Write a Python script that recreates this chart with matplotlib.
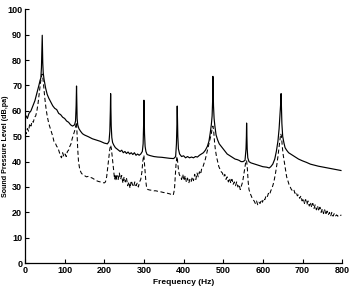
"""Sound pressure level spectrum, solid vs dashed measurement."""
import matplotlib
matplotlib.use("Agg")
import matplotlib.pyplot as plt

# solid curve: frequency (Hz) / level (dB,pa)
solid_freq = [
    0, 3, 6, 10, 15, 20, 25, 30, 35, 38, 40, 41.5, 42.5, 43.5, 44, 44.8, 46, 48,
    52, 56, 60, 65, 70, 75, 80, 85, 90, 95, 100, 105, 110, 115, 120, 125, 127.5,
    129, 130, 130.7, 131.5, 133, 136, 140, 145, 150, 160, 170, 180, 190, 200, 208,
    212, 214, 215.3, 216, 216.6, 217.5, 219, 221, 224, 228, 232, 236, 240, 244,
    248, 252, 256, 260, 264, 268, 272, 276, 280, 284, 288, 292, 296, 298, 299.3,
    300, 300.6, 301.5, 303, 305, 308, 315, 325, 335, 345, 355, 365, 375, 380,
    382, 383.3, 384, 384.6, 385.5, 387, 390, 395, 400, 405, 410, 415, 420, 425,
    430, 435, 440, 445, 450, 455, 460, 464, 467, 470, 472, 473.3, 474, 474.6,
    475.5, 477, 479, 482, 486, 490, 495, 500, 505, 510, 515, 520, 525, 530, 535,
    540, 545, 550, 555, 557.5, 558.5, 559, 559.6, 560.5, 562, 565, 570, 580,
    590, 600, 610, 616, 620, 625, 630, 634, 638, 641, 643, 645, 646, 646.7, 648,
    650, 653, 656, 660, 665, 670, 680, 690, 700, 710, 720, 730, 740, 750, 760,
    770, 780, 790, 797,
]
solid_spl = [
    57.5, 58, 57, 59, 60, 62, 64, 67, 70, 72, 73, 77, 83, 89.8, 86, 79, 75, 72.5,
    69, 66.5, 65, 63.5, 62, 61, 60.5, 59, 58.5, 57.5, 57, 56, 55.5, 54.5, 54,
    54.5, 56, 62, 69.8, 64, 57, 54.5, 53, 52, 51, 50.5, 49.8, 49, 48.5, 48, 47.3,
    47, 48, 52, 60, 66.8, 62, 54, 49.5, 47.5, 46.5, 45.5, 45, 44.5, 44, 44.5,
    43.5, 44, 43.2, 43.8, 43, 43.5, 42.8, 43.5, 42.5, 43, 42.5, 43, 44, 47, 55,
    64.2, 59, 51, 46, 44, 42.8, 42.4, 42, 41.8, 41.7, 41.5, 41.3, 41.2, 42,
    47, 55, 61.9, 57, 50, 45, 43, 42, 42.3, 41.5, 42, 41.5, 41.8, 41.5,
    42, 41.8, 42.5, 43, 43.5, 44.5, 46, 48, 51, 54.5, 58, 64, 73.6, 69,
    62, 57, 54, 50.5, 48.5, 47, 46, 45, 44, 43, 42.5, 42, 41.5, 41, 40.8,
    40.5, 40, 40, 40.5, 45, 50, 55.2, 51, 45, 41.5, 40, 39.5, 39,
    38.5, 38, 37.8, 37.5, 38, 39, 41, 44, 48, 53, 58, 63, 66.8, 62, 55,
    50, 47.5, 45.5, 44.5, 43.5, 43, 42, 41, 40.3, 39.7, 39, 38.6, 38.2, 37.9,
    37.6, 37.3, 37, 36.7, 36.5,
]

# dashed curve: frequency (Hz) / level (dB,pa)
dashed_freq = [
    0, 3, 6, 9, 12, 15, 18, 21, 24, 27, 30, 33, 36, 39, 41, 43, 45, 47, 50, 53,
    56, 60, 63, 66, 70, 73, 76, 80, 83, 86, 89, 92, 95, 98, 101, 104, 107, 110,
    113, 116, 119, 122, 125, 128, 130, 131, 133, 135, 138, 142, 146, 150, 155,
    160, 165, 170, 175, 180, 185, 190, 195, 200, 203, 206, 209, 212, 214, 216,
    218, 220, 222, 224, 226, 228, 230, 232, 235, 238, 241, 244, 247, 250, 253,
    256, 259, 262, 265, 268, 271, 274, 277, 280, 283, 286, 289, 292, 295, 297,
    299, 300, 301, 303, 305, 307, 310, 315, 320, 325, 330, 335, 340, 345, 350,
    355, 360, 365, 370, 374, 377, 379, 381, 383, 384, 385, 387, 389, 392, 395,
    398, 401, 404, 407, 410, 413, 416, 419, 422, 425, 428, 431, 434, 437, 440,
    443, 446, 449, 452, 455, 458, 461, 464, 467, 470, 472, 474, 476, 478, 480,
    483, 486, 489, 492, 495, 498, 501, 504, 507, 510, 513, 516, 519, 522, 525,
    528, 531, 534, 537, 540, 543, 546, 549, 552, 555, 557, 559, 561, 563, 565,
    568, 572, 575, 578, 581, 584, 587, 590, 593, 596, 599, 602, 605, 608, 611,
    614, 617, 620, 623, 626, 629, 632, 635, 638, 641, 643, 645, 647, 649, 651,
    654, 657, 660, 663, 666, 669, 672, 675, 678, 681, 684, 687, 690, 693, 696,
    699, 702, 705, 708, 711, 714, 717, 720, 723, 726, 729, 732, 735, 738, 741,
    744, 747, 750, 753, 756, 759, 762, 765, 768, 771, 774, 777, 780, 783, 786,
    789, 792, 795, 798,
]
dashed_spl = [
    52, 51, 53, 52, 55, 54, 56, 55.5, 57.5, 58, 60, 63, 67, 71, 73, 74.5, 73, 70,
    65, 61, 58, 55, 53.5, 52, 50, 48, 47.5, 46, 45.5, 44, 42.5, 41.5, 43.5, 42,
    43, 42, 44, 44.5, 46, 47, 49, 50.5, 52, 54, 55.5, 52, 45, 40, 37, 35.5,
    34.8, 34.5, 34, 34.2, 33.8, 33.5, 33, 32.5, 32.2, 32, 31.8, 31.6, 32, 34,
    38, 42, 45, 46.5, 45, 42, 39, 36, 33, 35, 32.5, 34.5, 33, 35.5, 33, 34.5,
    31.5, 34, 32, 33.5, 30.5, 32, 29.5, 32.5, 31, 30, 32, 30.5, 31.5, 30, 32,
    33, 36, 40, 42, 42.5, 40, 36, 32, 29.5, 29, 28.8, 28.7, 28.5, 28.5, 28.3,
    28.2, 28, 27.8, 27.8, 27.5, 27.3, 27, 26.8, 29, 34, 39, 41.5, 42, 40, 37,
    35, 34, 33, 35, 32.5, 34.5, 32, 33.5, 31.5, 33, 32, 34, 32.5, 35, 33, 35.5,
    34, 36, 35, 37.5, 38, 39.5, 41, 43, 45, 47, 49, 51, 53, 54, 52, 48, 45, 42,
    40, 38, 37, 36, 35.5, 34, 35, 33, 34, 32, 33.5, 31.5, 33, 31, 32, 30.5, 32,
    30, 31, 29, 30.5, 32, 35, 38, 40, 40.5, 37, 32, 29, 27.5, 26, 25, 24.5,
    23.5, 24.5, 23, 24, 23.5, 25, 24, 25.5, 25, 26.5, 26, 27.5, 27, 28.5, 29.5,
    31, 33, 35.5, 38.5, 42, 46, 49, 51, 50, 46, 43, 40, 37, 34, 32.5, 31, 30,
    29, 28.5, 29, 27.5, 28, 26.5, 27, 25.5, 26.5, 24.5, 25.5, 23.5, 25, 23,
    24.5, 22.5, 24, 22, 23.5, 21.5, 23, 21, 22.5, 20.5, 22, 20, 21.5, 19.5, 21,
    19, 20.5, 19, 20, 18.5, 20, 18.5, 19.5, 18.5, 19, 18.5, 19, 18.7, 19,
]

x_ticks = [0, 100, 200, 300, 400, 500, 600, 700, 800]
y_ticks = [0, 10, 20, 30, 40, 50, 60, 70, 80, 90, 100]

plt.rcParams["font.family"] = ["Liberation Sans", "DejaVu Sans"]

fig = plt.figure(figsize=(3.52, 2.93), dpi=100)
ax = fig.add_axes([0.071, 0.102, 0.901, 0.866])

ax.plot(solid_freq, solid_spl, color="black", lw=0.85)
ax.plot(dashed_freq, dashed_spl, color="black", lw=0.75, ls=(0, (4, 2.5)))

ax.set_xlim(0, 800)
ax.set_ylim(0, 100)
ax.set_xticks(x_ticks)
ax.set_yticks(y_ticks)
ax.tick_params(direction="in", length=3, width=0.8, labelsize=6.5, pad=2)
for lab in ax.get_xticklabels() + ax.get_yticklabels():
    lab.set_fontweight("bold")

ax.spines["top"].set_visible(False)
ax.spines["right"].set_visible(False)
ax.spines["left"].set_linewidth(0.9)
ax.spines["bottom"].set_linewidth(0.9)

ax.set_xlabel("Frequency (Hz)", fontsize=6, fontweight="bold", labelpad=3)
ax.set_ylabel("Sound Pressure Level (dB,pa)", fontsize=5.1, fontweight="bold")
ax.yaxis.label.set_va("center")
ax.yaxis.set_label_coords(-0.062, 0.46)

fig.savefig("out.png", dpi=100)
